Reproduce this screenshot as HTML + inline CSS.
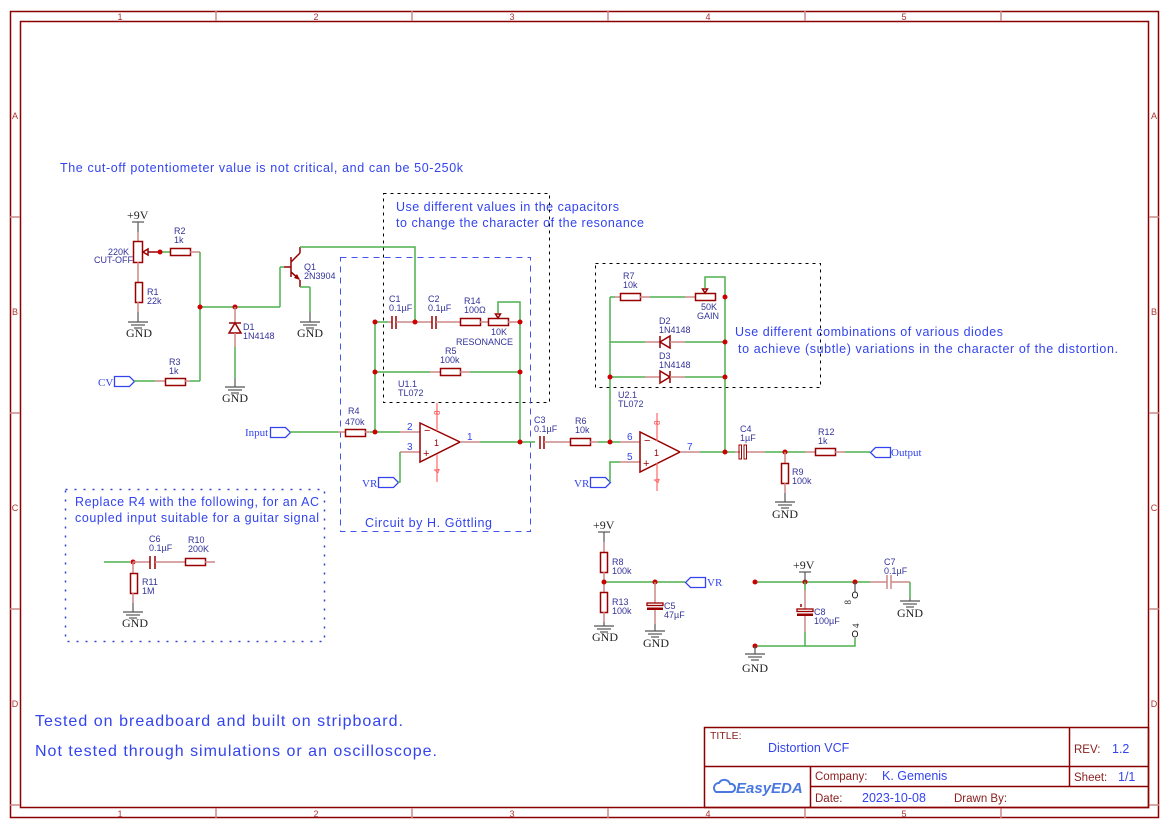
<!DOCTYPE html>
<html><head><meta charset="utf-8"><style>
html,body{margin:0;padding:0;background:#fff;}
svg{display:block;}
.w{stroke:#4fb04f;stroke-width:1.5;fill:none}
.p{stroke:#c88;stroke-width:1.5;fill:none}
.c{stroke:#990000;stroke-width:1.5;fill:none}
.cf{fill:#990000}
.d{fill:#cc0000}
.g{stroke:#555;stroke-width:1.2;fill:none}
.fr{stroke:#8b0000;stroke-width:1.5;fill:none}
text{font-family:"Liberation Sans",sans-serif}
.lb{font-size:9px;fill:#333399}
.nt{font-size:12.5px;fill:#3344ee}
.gn{font-family:"Liberation Serif",serif;font-size:12px;fill:#222}
.fl{font-size:9px;fill:#a33}
.tb{font-size:11.5px;fill:#8b2020}
.tv{font-size:12.5px;fill:#3344ee}
.dot{stroke:#000;stroke-width:1;stroke-dasharray:3,4;fill:none}
.bd{stroke:#4455ee;stroke-width:1;stroke-dasharray:6,5;fill:none}
.bd2{stroke:#3344cc;stroke-width:1.5;stroke-dasharray:2,7;fill:none}
.port{stroke:#3344ee;stroke-width:1.3;fill:#fff}
.pt{font-family:"Liberation Serif",serif;font-size:11px;fill:#3344ee}
</style></head><body>
<svg width="1169" height="828" viewBox="0 0 1169 828" xmlns="http://www.w3.org/2000/svg">
<!-- frame -->
<rect class="fr" x="10.5" y="11.5" width="1148" height="806"/>
<rect class="fr" x="20.5" y="21.5" width="1128" height="786"/>
<g stroke="#c88" stroke-width="1.5">
<line x1="216" y1="11" x2="216" y2="21"/><line x1="412" y1="11" x2="412" y2="21"/><line x1="608" y1="11" x2="608" y2="21"/><line x1="805" y1="11" x2="805" y2="21"/><line x1="1001" y1="11" x2="1001" y2="21"/>
<line x1="216" y1="808" x2="216" y2="818"/><line x1="412" y1="808" x2="412" y2="818"/><line x1="608" y1="808" x2="608" y2="818"/><line x1="805" y1="808" x2="805" y2="818"/><line x1="1001" y1="808" x2="1001" y2="818"/>
<line x1="10" y1="217" x2="20" y2="217"/><line x1="10" y1="413" x2="20" y2="413"/><line x1="10" y1="609" x2="20" y2="609"/><line x1="10" y1="805" x2="20" y2="805"/>
<line x1="1149" y1="217" x2="1159" y2="217"/><line x1="1149" y1="413" x2="1159" y2="413"/><line x1="1149" y1="609" x2="1159" y2="609"/><line x1="1149" y1="805" x2="1159" y2="805"/>
</g>
<g class="fl" text-anchor="middle">
<text x="120" y="20">1</text><text x="316" y="20">2</text><text x="512" y="20">3</text><text x="708" y="20">4</text><text x="904" y="20">5</text>
<text x="120" y="817">1</text><text x="316" y="817">2</text><text x="512" y="817">3</text><text x="708" y="817">4</text><text x="904" y="817">5</text>
<text x="15" y="119">A</text><text x="15" y="315">B</text><text x="15" y="511">C</text><text x="15" y="707">D</text>
<text x="1154" y="119">A</text><text x="1154" y="315">B</text><text x="1154" y="511">C</text><text x="1154" y="707">D</text>
</g>

<!-- title block -->
<rect class="fr" x="704.5" y="727.5" width="444" height="80"/>
<line class="fr" x1="704" y1="766.5" x2="1148" y2="766.5"/>
<line class="fr" x1="810.5" y1="786.5" x2="1148" y2="786.5"/>
<line class="fr" x1="810.5" y1="766" x2="810.5" y2="807"/>
<line class="fr" x1="1069.5" y1="727" x2="1069.5" y2="786"/>
<text class="tb" x="710" y="739" style="font-size:10.5px">TITLE:</text>
<text class="tv" x="768" y="752">Distortion VCF</text>
<text class="tb" x="1074" y="753">REV:</text><text class="tv" x="1112" y="753">1.2</text>
<text class="tb" x="815" y="780">Company:</text><text class="tv" x="882" y="780">K. Gemenis</text>
<text class="tb" x="1074" y="781">Sheet:</text><text class="tv" x="1118" y="781">1/1</text>
<text class="tb" x="815" y="802">Date:</text><text class="tv" x="862" y="802">2023-10-08</text>
<text class="tb" x="954" y="802">Drawn By:</text>
<path d="M716 792 a5 5 0 0 1 3-9 a6 6 0 0 1 11 1 a4 4 0 0 1 2 8 z" fill="none" stroke="#4a78e0" stroke-width="2"/>
<text x="736" y="793" style="font-size:15px;font-weight:bold;font-style:italic;fill:#4a78e0">EasyEDA</text>

<!-- notes -->
<text class="nt" x="60" y="172" textLength="403">The cut-off potentiometer value is not critical, and can be 50-250k</text>
<text class="nt" x="396" y="211" textLength="223">Use different values in the capacitors</text>
<text class="nt" x="396" y="227" textLength="248">to change the character of the resonance</text>
<text class="nt" x="735" y="336" textLength="268">Use different combinations of various diodes</text>
<text class="nt" x="738" y="353" textLength="380">to achieve (subtle) variations in the character of the distortion.</text>
<text class="nt" x="75" y="506" textLength="244">Replace R4 with the following, for an AC</text>
<text class="nt" x="75" y="522" textLength="244">coupled input suitable for a guitar signal</text>
<text class="nt" x="365" y="527" textLength="127">Circuit by H. Göttling</text>
<text class="nt" x="35" y="726" style="font-size:16px" textLength="368">Tested on breadboard and built on stripboard.</text>
<text class="nt" x="35" y="756" style="font-size:16px" textLength="402">Not tested through simulations or an oscilloscope.</text>

<!-- boxes -->
<rect class="dot" x="383.5" y="193.5" width="166" height="209"/>
<rect class="bd" x="340.5" y="257.5" width="190" height="274"/>
<rect class="dot" x="595.5" y="263.5" width="225" height="124"/>
<rect class="bd2" x="65.5" y="489.5" width="259" height="152"/>

<!-- ===== Left: cutoff pot ===== -->
<text class="gn" x="127" y="219">+9V</text>
<line class="g" x1="132" y1="222" x2="144" y2="222"/>
<line class="g" x1="138" y1="222" x2="138" y2="232"/>
<line class="p" x1="138" y1="232" x2="138" y2="241"/>
<rect class="c" x="133.5" y="241.5" width="9" height="21"/>
<path class="c" d="M143 252 l5 -3 v6 z"/>
<line class="c" x1="148" y1="252" x2="160" y2="252"/>
<line class="p" x1="138" y1="262" x2="138" y2="282"/>
<text class="lb" x="129" y="255" text-anchor="end">220K</text>
<text class="lb" x="133" y="263" text-anchor="end">CUT-OFF</text>
<line class="w" x1="160" y1="252" x2="170" y2="252"/>
<rect class="c" x="170.5" y="248.5" width="20" height="7"/>
<line class="p" x1="190" y1="252" x2="200" y2="252"/>
<text class="lb" x="174" y="234">R2</text><text class="lb" x="174" y="243">1k</text>
<rect class="c" x="135.5" y="282.5" width="7" height="20"/>
<text class="lb" x="147" y="295">R1</text><text class="lb" x="147" y="304">22k</text>
<line class="p" x1="138" y1="302" x2="138" y2="312"/>
<line class="g" x1="138" y1="312" x2="138" y2="322"/>
<line class="g" x1="128" y1="322" x2="148" y2="322"/><line class="g" x1="131" y1="325" x2="145" y2="325"/><line class="g" x1="134" y1="328" x2="142" y2="328"/>
<text class="gn" x="126" y="337">GND</text>
<circle class="d" cx="160" cy="252" r="2.5"/>

<line class="w" x1="200" y1="252" x2="200" y2="381"/>
<line class="w" x1="200" y1="307" x2="280" y2="307"/>
<line class="w" x1="280" y1="307" x2="280" y2="267"/>
<line class="w" x1="280" y1="267" x2="284" y2="267"/>
<circle class="d" cx="200" cy="307" r="2.5"/><circle class="d" cx="235" cy="307" r="2.5"/>
<!-- D1 -->
<line class="p" x1="235" y1="307" x2="235" y2="322"/>
<line class="c" x1="229" y1="323" x2="241" y2="323"/>
<path class="c" d="M235 323 L229 333 L241 333 Z"/>
<line class="p" x1="235" y1="333" x2="235" y2="347"/>
<line class="w" x1="235" y1="347" x2="235" y2="378"/>
<line class="g" x1="235" y1="378" x2="235" y2="387"/>
<line class="g" x1="225" y1="387" x2="245" y2="387"/><line class="g" x1="228" y1="390" x2="242" y2="390"/><line class="g" x1="231" y1="393" x2="239" y2="393"/>
<text class="gn" x="222" y="402">GND</text>
<text class="lb" x="243" y="330">D1</text><text class="lb" x="243" y="339">1N4148</text>
<!-- Q1 -->
<line class="c" x1="284" y1="267" x2="291" y2="267"/>
<line class="c" x1="291" y1="257" x2="291" y2="277" stroke-width="2"/>
<line class="c" x1="291" y1="262" x2="300" y2="253"/>
<line class="c" x1="300" y1="253" x2="300" y2="247"/>
<line class="c" x1="291" y1="272" x2="299" y2="279"/>
<path class="cf" d="M300 280 l-6 -2 l3 -4 z"/>
<line class="c" x1="300" y1="280" x2="300" y2="287"/>
<line class="w" x1="300" y1="287" x2="310" y2="287"/>
<line class="w" x1="310" y1="287" x2="310" y2="312"/>
<line class="g" x1="310" y1="312" x2="310" y2="322"/>
<line class="g" x1="300" y1="322" x2="320" y2="322"/><line class="g" x1="303" y1="325" x2="317" y2="325"/><line class="g" x1="306" y1="328" x2="314" y2="328"/>
<text class="gn" x="297" y="337">GND</text>
<text class="lb" x="304" y="270">Q1</text><text class="lb" x="304" y="279">2N3904</text>
<polyline class="w" points="300,247 415,247 415,322"/>

<!-- CV -->
<text class="pt" x="98" y="386">CV</text>
<path class="port" d="M114.5 376.5 h15 l5 5 l-5 5 h-15 z"/>
<line class="w" x1="134" y1="381" x2="155" y2="381"/>
<line class="p" x1="155" y1="381" x2="165" y2="381"/>
<rect class="c" x="165.5" y="378.5" width="20" height="7"/>
<line class="p" x1="185" y1="381" x2="190" y2="381"/>
<line class="w" x1="190" y1="381" x2="200" y2="381"/>
<text class="lb" x="169" y="365">R3</text><text class="lb" x="169" y="374">1k</text>

<!-- Input / U1 -->
<text class="pt" x="245" y="436">Input</text>
<path class="port" d="M270.5 427.5 h15 l5 5 l-5 5 h-15 z"/>
<line class="w" x1="290" y1="432" x2="338" y2="432"/>
<line class="p" x1="338" y1="432" x2="345" y2="432"/>
<rect class="c" x="345.5" y="429.5" width="20" height="7"/>
<line class="p" x1="365" y1="432" x2="370" y2="432"/>
<text class="lb" x="348" y="414">R4</text><text class="lb" x="345" y="425">470k</text>
<line class="w" x1="370" y1="432" x2="400" y2="432"/>
<line class="p" x1="400" y1="432" x2="420" y2="432"/>
<line class="p" x1="400" y1="452" x2="420" y2="452"/>
<text class="lb" x="407" y="430" style="fill:#3344ee;font-size:10px">2</text>
<text class="lb" x="407" y="450" style="fill:#3344ee;font-size:10px">3</text>
<path class="c" d="M420 423 L420 462 L460 442 Z"/>
<text x="424" y="434" style="font-size:11px;fill:#990000">−</text>
<text x="423" y="457" style="font-size:11px;fill:#990000">+</text>
<text x="434" y="446" style="font-size:9px;fill:#990000">1</text>
<line x1="437" y1="403" x2="437" y2="431" stroke="#f66" stroke-width="1.2"/>
<line x1="437" y1="454" x2="437" y2="482" stroke="#f66" stroke-width="1.2"/>
<text transform="translate(440,415) rotate(-90)" style="font-size:8px;fill:#f44">8</text>
<text transform="translate(440,473) rotate(-90)" style="font-size:8px;fill:#f44">4</text>
<line class="p" x1="460" y1="442" x2="480" y2="442"/>
<text x="467" y="440" style="font-size:10px;fill:#3344ee">1</text>
<line class="w" x1="480" y1="442" x2="535" y2="442"/>
<text class="lb" x="398" y="387">U1.1</text><text class="lb" x="398" y="396">TL072</text>
<text class="pt" x="362" y="487">VR</text>
<path class="port" d="M378.5 477.5 h15 l5 5 l-5 5 h-15 z"/>
<polyline class="w" points="398,482 400,482 400,452"/>

<!-- U1 feedback -->
<line class="w" x1="375" y1="322" x2="375" y2="432"/>
<line class="w" x1="375" y1="322" x2="388" y2="322"/>
<line class="p" x1="388" y1="322" x2="392" y2="322"/>
<line class="c" x1="392" y1="316" x2="392" y2="329" stroke-width="2"/>
<line class="c" x1="396" y1="316" x2="396" y2="329" stroke-width="2"/>
<line class="p" x1="396" y1="322" x2="432" y2="322"/>
<line class="c" x1="432" y1="316" x2="432" y2="329" stroke-width="2"/>
<line class="c" x1="436" y1="316" x2="436" y2="329" stroke-width="2"/>
<line class="p" x1="436" y1="322" x2="460" y2="322"/>
<rect class="c" x="460.5" y="318.5" width="20" height="7"/>
<line class="p" x1="480" y1="322" x2="488" y2="322"/>
<rect class="c" x="488.5" y="318.5" width="20" height="7"/>
<path class="c" d="M498 318 l-2.5 -4 h5 z"/>
<polyline class="w" points="498,313 498,302 520,302 520,442"/>
<line class="p" x1="508" y1="322" x2="520" y2="322"/>
<text class="lb" x="389" y="302">C1</text><text class="lb" x="389" y="311">0.1µF</text>
<text class="lb" x="428" y="302">C2</text><text class="lb" x="428" y="311">0.1µF</text>
<text class="lb" x="464" y="304">R14</text><text class="lb" x="464" y="313">100Ω</text>
<text class="lb" x="491" y="335">10K</text><text class="lb" x="456" y="345">RESONANCE</text>
<line class="w" x1="375" y1="372" x2="430" y2="372"/>
<line class="p" x1="430" y1="372" x2="440" y2="372"/>
<rect class="c" x="440.5" y="368.5" width="20" height="7"/>
<line class="p" x1="460" y1="372" x2="470" y2="372"/>
<line class="w" x1="470" y1="372" x2="520" y2="372"/>
<text class="lb" x="445" y="354">R5</text><text class="lb" x="440" y="363">100k</text>
<circle class="d" cx="375" cy="322" r="2.5"/><circle class="d" cx="415" cy="322" r="2.5"/><circle class="d" cx="520" cy="322" r="2.5"/>
<circle class="d" cx="375" cy="372" r="2.5"/><circle class="d" cx="520" cy="372" r="2.5"/>
<circle class="d" cx="375" cy="432" r="2.5"/><circle class="d" cx="520" cy="442" r="2.5"/>

<!-- C3, R6 -->
<line class="c" x1="540" y1="436" x2="540" y2="449" stroke-width="2"/>
<line class="c" x1="544" y1="436" x2="544" y2="449" stroke-width="2"/>
<line class="p" x1="544" y1="442" x2="570" y2="442"/>
<rect class="c" x="570.5" y="438.5" width="20" height="7"/>
<line class="p" x1="590" y1="442" x2="598" y2="442"/>
<line class="w" x1="598" y1="442" x2="620" y2="442"/>
<text class="lb" x="534" y="423">C3</text><text class="lb" x="534" y="432">0.1µF</text>
<text class="lb" x="575" y="424">R6</text><text class="lb" x="575" y="433">10k</text>

<!-- U2 -->
<line class="p" x1="620" y1="442" x2="640" y2="442"/>
<line class="p" x1="620" y1="462" x2="640" y2="462"/>
<text x="627" y="440" style="font-size:10px;fill:#3344ee">6</text>
<text x="627" y="460" style="font-size:10px;fill:#3344ee">5</text>
<path class="c" d="M640 432 L640 472 L680 452 Z"/>
<text x="644" y="444" style="font-size:11px;fill:#990000">−</text>
<text x="643" y="467" style="font-size:11px;fill:#990000">+</text>
<text x="654" y="456" style="font-size:9px;fill:#990000">1</text>
<line x1="657" y1="413" x2="657" y2="441" stroke="#f66" stroke-width="1.2"/>
<line x1="657" y1="463" x2="657" y2="491" stroke="#f66" stroke-width="1.2"/>
<text transform="translate(660,425) rotate(-90)" style="font-size:8px;fill:#f44">8</text>
<text transform="translate(660,483) rotate(-90)" style="font-size:8px;fill:#f44">4</text>
<line class="p" x1="680" y1="452" x2="700" y2="452"/>
<text x="687" y="450" style="font-size:10px;fill:#3344ee">7</text>
<line class="w" x1="700" y1="452" x2="735" y2="452"/>
<text class="lb" x="618" y="398">U2.1</text><text class="lb" x="618" y="407">TL072</text>
<text class="pt" x="574" y="487">VR</text>
<path class="port" d="M590.5 477.5 h15 l5 5 l-5 5 h-15 z"/>
<polyline class="w" points="610,482 610,462 620,462"/>

<!-- U2 feedback -->
<line class="w" x1="610" y1="297" x2="610" y2="442"/>
<line class="w" x1="610" y1="297" x2="615" y2="297"/>
<line class="p" x1="615" y1="297" x2="620" y2="297"/>
<rect class="c" x="620.5" y="293.5" width="20" height="7"/>
<line class="p" x1="640" y1="297" x2="650" y2="297"/>
<line class="w" x1="650" y1="297" x2="685" y2="297"/>
<line class="p" x1="685" y1="297" x2="695" y2="297"/>
<rect class="c" x="695.5" y="293.5" width="20" height="7"/>
<path class="c" d="M705 293 l-2.5 -4 h5 z"/>
<polyline class="w" points="705,288 705,277 725,277 725,452"/>
<text class="lb" x="623" y="279">R7</text><text class="lb" x="623" y="288">10k</text>
<text class="lb" x="701" y="310">50K</text><text class="lb" x="697" y="319">GAIN</text>
<line class="w" x1="610" y1="342" x2="645" y2="342"/>
<line class="p" x1="645" y1="342" x2="660" y2="342"/>
<path class="c" d="M660 342 L670 336 L670 348 Z"/>
<line class="c" x1="660" y1="336" x2="660" y2="348"/>
<line class="p" x1="670" y1="342" x2="685" y2="342"/>
<line class="w" x1="685" y1="342" x2="725" y2="342"/>
<text class="lb" x="659" y="324">D2</text><text class="lb" x="659" y="333">1N4148</text>
<line class="w" x1="610" y1="377" x2="645" y2="377"/>
<line class="p" x1="645" y1="377" x2="660" y2="377"/>
<path class="c" d="M670 377 L660 371 L660 383 Z"/>
<line class="c" x1="670" y1="371" x2="670" y2="383"/>
<line class="p" x1="670" y1="377" x2="685" y2="377"/>
<line class="w" x1="685" y1="377" x2="725" y2="377"/>
<text class="lb" x="659" y="359">D3</text><text class="lb" x="659" y="368">1N4148</text>
<circle class="d" cx="725" cy="297" r="2.5"/><circle class="d" cx="725" cy="342" r="2.5"/><circle class="d" cx="725" cy="377" r="2.5"/>
<circle class="d" cx="610" cy="377" r="2.5"/><circle class="d" cx="610" cy="442" r="2.5"/><circle class="d" cx="725" cy="452" r="2.5"/>

<!-- C4, R9, R12, Output -->
<line class="p" x1="735" y1="452" x2="740" y2="452"/>
<rect x="739" y="445" width="2.5" height="14" fill="none" stroke="#990000" stroke-width="1"/>
<rect x="744" y="445" width="2.5" height="14" fill="none" stroke="#990000" stroke-width="1"/>
<line class="p" x1="747" y1="452" x2="765" y2="452"/>
<line class="w" x1="765" y1="452" x2="805" y2="452"/>
<line class="p" x1="805" y1="452" x2="815" y2="452"/>
<rect class="c" x="815.5" y="448.5" width="20" height="7"/>
<line class="p" x1="835" y1="452" x2="845" y2="452"/>
<line class="w" x1="845" y1="452" x2="870" y2="452"/>
<path class="port" d="M890.5 447.5 h-15 l-5 5 l5 5 h15 z"/>
<text class="pt" x="891" y="456">Output</text>
<text class="lb" x="740" y="432">C4</text><text class="lb" x="740" y="441">1µF</text>
<text class="lb" x="818" y="435">R12</text><text class="lb" x="818" y="444">1k</text>
<circle class="d" cx="785" cy="452" r="2.5"/>
<line class="p" x1="785" y1="452" x2="785" y2="463"/>
<rect class="c" x="781.5" y="463.5" width="7" height="20"/>
<line class="p" x1="785" y1="483" x2="785" y2="493"/>
<line class="g" x1="785" y1="493" x2="785" y2="502"/>
<line class="g" x1="775" y1="502" x2="795" y2="502"/><line class="g" x1="778" y1="505" x2="792" y2="505"/><line class="g" x1="781" y1="508" x2="789" y2="508"/>
<text class="gn" x="772" y="518">GND</text>
<text class="lb" x="792" y="475">R9</text><text class="lb" x="792" y="484">100k</text>

<!-- AC input alt -->
<line class="w" x1="104" y1="562" x2="130" y2="562"/>
<circle class="d" cx="133" cy="562" r="2.5"/>
<line class="p" x1="133" y1="562" x2="150" y2="562"/>
<line class="c" x1="150" y1="556" x2="150" y2="569" stroke-width="2"/>
<line class="c" x1="155" y1="556" x2="155" y2="569" stroke-width="2"/>
<line class="p" x1="155" y1="562" x2="185" y2="562"/>
<rect class="c" x="185.5" y="558.5" width="20" height="7"/>
<line class="p" x1="205" y1="562" x2="215" y2="562"/>
<line class="p" x1="133" y1="562" x2="133" y2="573"/>
<rect class="c" x="130.5" y="573.5" width="7" height="20"/>
<line class="p" x1="133" y1="593" x2="133" y2="603"/>
<line class="g" x1="133" y1="603" x2="133" y2="612"/>
<line class="g" x1="123" y1="612" x2="143" y2="612"/><line class="g" x1="126" y1="615" x2="140" y2="615"/><line class="g" x1="129" y1="618" x2="137" y2="618"/>
<text class="gn" x="122" y="627">GND</text>
<text class="lb" x="149" y="542">C6</text><text class="lb" x="149" y="551">0.1µF</text>
<text class="lb" x="188" y="543">R10</text><text class="lb" x="188" y="552">200K</text>
<text class="lb" x="142" y="585">R11</text><text class="lb" x="142" y="594">1M</text>

<!-- VR divider -->
<text class="gn" x="593" y="529">+9V</text>
<line class="g" x1="598" y1="532" x2="610" y2="532"/>
<line class="g" x1="604" y1="532" x2="604" y2="542"/>
<line class="p" x1="604" y1="542" x2="604" y2="552"/>
<rect class="c" x="600.5" y="552.5" width="7" height="20"/>
<line class="p" x1="604" y1="572" x2="604" y2="592"/>
<rect class="c" x="600.5" y="592.5" width="7" height="20"/>
<line class="p" x1="604" y1="612" x2="604" y2="622"/>
<line class="g" x1="594" y1="626" x2="614" y2="626"/><line class="g" x1="597" y1="629" x2="611" y2="629"/><line class="g" x1="600" y1="632" x2="608" y2="632"/>
<line class="g" x1="604" y1="622" x2="604" y2="626"/>
<text class="gn" x="592" y="641">GND</text>
<text class="lb" x="612" y="565">R8</text><text class="lb" x="612" y="574">100k</text>
<text class="lb" x="612" y="605">R13</text><text class="lb" x="612" y="614">100k</text>
<line class="w" x1="604" y1="582" x2="685" y2="582"/>
<circle class="d" cx="604" cy="582" r="2.5"/><circle class="d" cx="655" cy="582" r="2.5"/>
<path class="port" d="M705.5 577.5 h-15 l-5 5 l5 5 h15 z"/>
<text class="pt" x="707" y="586">VR</text>
<line class="p" x1="655" y1="582" x2="655" y2="603"/>
<rect x="647" y="603" width="16" height="2.5" fill="none" stroke="#990000" stroke-width="1.3"/>
<rect x="647" y="607.5" width="16" height="2.5" fill="#990000"/>
<line class="p" x1="655" y1="610" x2="655" y2="624"/>
<line class="g" x1="655" y1="624" x2="655" y2="631"/>
<line class="g" x1="645" y1="631" x2="665" y2="631"/><line class="g" x1="648" y1="634" x2="662" y2="634"/><line class="g" x1="651" y1="637" x2="659" y2="637"/>
<text class="gn" x="643" y="647">GND</text>
<text class="lb" x="664" y="609">C5</text><text class="lb" x="664" y="618">47µF</text>

<!-- power decoupling -->
<line class="w" x1="755" y1="582" x2="870" y2="582"/>
<circle class="d" cx="755" cy="582" r="2.5"/><circle class="d" cx="805" cy="582" r="2.5"/><circle class="d" cx="855" cy="582" r="2.5"/>
<text class="gn" x="793" y="569">+9V</text>
<line class="g" x1="799" y1="572" x2="811" y2="572"/>
<line class="g" x1="805" y1="572" x2="805" y2="582"/>
<line class="p" x1="870" y1="582" x2="887" y2="582"/>
<line class="p" x1="887" y1="575" x2="887" y2="589"/>
<line class="p" x1="891" y1="575" x2="891" y2="589"/>
<line class="p" x1="891" y1="582" x2="910" y2="582"/>
<line class="w" x1="910" y1="582" x2="910" y2="598"/>
<line class="g" x1="910" y1="598" x2="910" y2="601"/>
<line class="g" x1="900" y1="601" x2="920" y2="601"/><line class="g" x1="903" y1="604" x2="917" y2="604"/><line class="g" x1="906" y1="607" x2="914" y2="607"/>
<text class="gn" x="897" y="617">GND</text>
<text class="lb" x="884" y="565">C7</text><text class="lb" x="884" y="574">0.1µF</text>
<line class="w" x1="805" y1="582" x2="805" y2="590"/>
<line class="p" x1="805" y1="590" x2="805" y2="609"/>
<line class="c" x1="801" y1="604" x2="801" y2="607"/>
<rect x="797" y="609" width="16" height="2.5" fill="none" stroke="#990000" stroke-width="1.3"/>
<rect x="797" y="613.5" width="16" height="2.5" fill="#990000"/>
<line class="p" x1="805" y1="616" x2="805" y2="632"/>
<line class="w" x1="805" y1="632" x2="805" y2="646"/>
<polyline class="w" points="755,646 855,646 855,638"/>
<circle class="d" cx="755" cy="646" r="2.5"/>
<line class="g" x1="855" y1="582" x2="855" y2="592"/>
<rect x="852.5" y="592" width="5" height="6" rx="2.5" fill="none" stroke="#222" stroke-width="1"/>
<text transform="translate(851,600) rotate(-90)" style="font-size:9px;fill:#222;font-family:'Liberation Serif',serif" text-anchor="end">8</text>
<rect x="852.5" y="631" width="5" height="6" rx="2.5" fill="none" stroke="#222" stroke-width="1"/>
<text transform="translate(859,628) rotate(-90)" style="font-size:9px;fill:#222;font-family:'Liberation Serif',serif">4</text>
<line class="g" x1="755" y1="646" x2="755" y2="651"/>
<line class="g" x1="745" y1="654" x2="765" y2="654"/><line class="g" x1="748" y1="657" x2="762" y2="657"/><line class="g" x1="751" y1="660" x2="759" y2="660"/>
<line class="g" x1="755" y1="651" x2="755" y2="654"/>
<text class="gn" x="742" y="672">GND</text>
<text class="lb" x="814" y="615">C8</text><text class="lb" x="814" y="624">100µF</text>
</svg>
</body></html>
